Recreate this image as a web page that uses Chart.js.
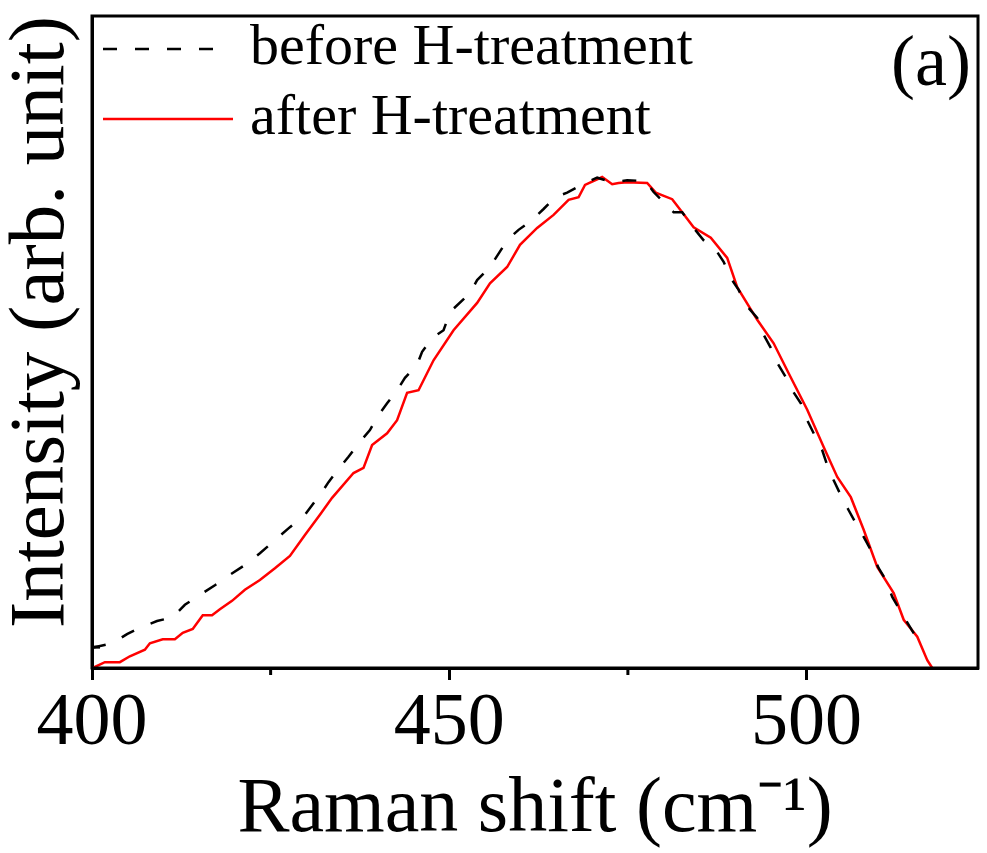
<!DOCTYPE html>
<html lang="en">
<head>
    <meta charset="UTF-8">
    <title>Raman shift</title>
    <script src="https://cdn.jsdelivr.net/npm/chart.js"></script>
    <style>
        html, body { margin: 0; padding: 0; background: #fff; }
        #wrap { width: 987px; height: 853px; }
    </style>
</head>
<body>
    <div id="wrap"><canvas id="ramanChart"></canvas></div>

    <script>
        // Raman shift (cm-1) and intensity (arb. unit)
        const beforeShift = [400.0, 402.9, 404.9, 407.0, 409.1, 411.3, 413.0, 415.1, 417.2, 419.3, 421.4, 423.5, 425.6, 427.7, 429.8,
            432.2, 433.1, 434.7, 435.9, 437.5, 438.9, 440.1, 441.3, 442.7, 443.8, 445.5, 446.2, 447.6, 449.2, 450.1,
            452.9, 453.9, 455.7, 458.1, 459.7, 461.6, 463.2, 464.8, 466.5, 469.0, 470.7, 472.8, 474.9, 477.5, 478.6,
            481.4, 482.6, 484.2, 485.6, 487.5, 488.4, 489.4, 490.5, 491.5, 493.1, 494.0, 495.0, 495.9, 497.1, 498.0,
            499.2, 500.1, 501.0, 502.2, 502.9, 503.8, 504.8, 505.9, 506.9, 508.0, 509.0, 510.1, 511.1, 512.0, 512.9,
            514.3, 515.3, 516.0];
        const beforeIntensity = [3.1, 3.8, 5.2, 6.3, 7.2, 7.8, 9.7, 11.2, 12.7, 14.3, 15.8, 17.6, 19.6, 21.6, 23.5,
            27.0, 28.5, 30.8, 32.4, 34.7, 36.5, 38.8, 40.6, 42.6, 44.5, 46.5, 48.5, 50.6, 51.8, 54.6,
            57.5, 59.5, 61.5, 65.6, 67.2, 68.7, 70.4, 72.2, 72.9, 74.4, 75.2, 74.5, 74.8, 74.7, 73.0,
            69.9, 69.9, 67.5, 65.6, 63.8, 62.3, 59.8, 58.0, 55.7, 53.7, 51.1, 49.1, 46.8, 44.6, 42.6,
            40.6, 38.0, 36.0, 33.4, 31.1, 28.8, 26.5, 24.2, 22.2, 20.1, 18.1, 15.3, 13.5, 10.9, 9.2,
            6.6, 4.8, 3.5];

        const afterShift = [400.1, 401.8, 403.9, 405.3, 407.4, 408.1, 409.9, 411.6, 412.7, 414.1, 415.5, 416.8, 417.9, 419.6, 421.4,
            423.5, 425.6, 427.7, 429.8, 431.9, 433.6, 436.6, 438.0, 439.2, 441.3, 442.7, 444.1, 445.7, 447.8, 450.6,
            453.9, 455.7, 458.1, 459.9, 462.3, 464.6, 466.7, 468.1, 469.0, 471.4, 472.8, 473.7, 474.9, 477.7, 478.9,
            481.2, 482.6, 484.2, 486.6, 488.9, 490.3, 493.1, 495.4, 497.5, 500.1, 502.4, 504.3, 506.2, 508.0, 509.9,
            512.2, 513.6, 515.5, 516.9, 517.6];
        const afterIntensity = [0.0, 0.9, 0.9, 1.8, 2.8, 3.8, 4.4, 4.4, 5.4, 6.0, 8.1, 8.1, 9.0, 10.3, 12.0,
            13.5, 15.3, 17.2, 20.4, 23.5, 26.1, 29.9, 30.7, 34.2, 36.0, 38.0, 42.2, 42.6, 47.2, 51.8,
            56.0, 59.0, 61.5, 64.9, 67.5, 69.5, 71.8, 72.2, 74.1, 75.3, 74.2, 74.4, 74.5, 74.4, 72.9,
            71.9, 69.9, 67.6, 66.0, 62.9, 58.4, 53.4, 49.8, 45.2, 39.6, 33.9, 29.3, 26.2, 21.2, 15.5,
            11.5, 7.4, 4.8, 1.2, 0.0];

        const seriesLabels = ['before H-treatment', 'after H-treatment'];
        const minorTicks = [425, 475];
        const yTickMarks = [3.2];
        const panelLabel = '(a)';

        const serif = '"Liberation Serif", "Times New Roman", serif';

        function toPoints(xs, ys) {
            return xs.map((x, i) => ({ x: x, y: ys[i] }));
        }

        // frame, minor ticks, in-plot legend and panel letter
        const decorations = {
            id: 'decorations',
            afterDraw(chart) {
                const { ctx, chartArea: a, scales } = chart;
                ctx.save();
                ctx.strokeStyle = '#000';
                ctx.lineWidth = 3;
                ctx.strokeRect(a.left, a.top, a.right - a.left, a.bottom - a.top);

                minorTicks.forEach(v => {
                    const px = scales.x.getPixelForValue(v);
                    ctx.beginPath();
                    ctx.moveTo(px, a.bottom);
                    ctx.lineTo(px, a.bottom + 7);
                    ctx.stroke();
                });
                yTickMarks.forEach(v => {
                    const py = scales.y.getPixelForValue(v);
                    ctx.beginPath();
                    ctx.moveTo(a.left, py);
                    ctx.lineTo(a.left + 8, py);
                    ctx.stroke();
                });

                // legend
                ctx.font = '58px ' + serif;
                ctx.textBaseline = 'middle';
                ctx.textAlign = 'left';
                chart.data.datasets.forEach((ds, i) => {
                    const ly = a.top + 33 + i * 70;
                    ctx.save();
                    ctx.strokeStyle = ds.borderColor;
                    ctx.lineWidth = ds.borderWidth;
                    ctx.setLineDash(ds.borderDash || []);
                    ctx.beginPath();
                    ctx.moveTo(a.left + 11, ly);
                    ctx.lineTo(a.left + (ds.borderDash ? 124 : 141), ly);
                    ctx.stroke();
                    ctx.restore();
                    ctx.fillStyle = '#000';
                    ctx.fillText(ds.label, a.left + 158, ly);
                });

                ctx.font = '72px ' + serif;
                ctx.textAlign = 'right';
                ctx.fillText(panelLabel, a.right - 7, a.top + 50);
                ctx.restore();
            }
        };

        new Chart(document.getElementById('ramanChart'), {
            type: 'line',
            data: {
                datasets: [{
                    label: seriesLabels[0],
                    data: toPoints(beforeShift, beforeIntensity),
                    borderColor: '#000000',
                    borderWidth: 2.5,
                    borderDash: [14, 18],
                    pointRadius: 0,
                    tension: 0,
                    fill: false
                }, {
                    label: seriesLabels[1],
                    data: toPoints(afterShift, afterIntensity),
                    borderColor: '#ff0000',
                    borderWidth: 2.5,
                    pointRadius: 0,
                    tension: 0,
                    fill: false
                }]
            },
            options: {
                responsive: true,
                maintainAspectRatio: false,
                animation: false,
                layout: { padding: { top: 16, right: 9, left: 0, bottom: 0 } },
                plugins: {
                    legend: { display: false },
                    tooltip: { enabled: false }
                },
                scales: {
                    x: {
                        type: 'linear',
                        min: 400,
                        max: 524,
                        afterFit: s => { s.height = 185; },
                        ticks: {
                            stepSize: 50,
                            includeBounds: false,
                            autoSkip: false,
                            maxRotation: 0,
                            padding: 0,
                            color: '#000',
                            font: { family: serif, size: 74 }
                        },
                        grid: {
                            drawOnChartArea: false,
                            drawTicks: true,
                            tickLength: 12,
                            tickWidth: 3,
                            color: '#000'
                        },
                        border: { display: true, color: '#000', width: 3 },
                        title: {
                            display: true,
                            text: 'Raman shift (cm\u207B\u00B9)',
                            color: '#000',
                            font: { family: serif, size: 78, lineHeight: 1 },
                            padding: { top: 0, bottom: 3 }
                        }
                    },
                    y: {
                        min: 0,
                        max: 100,
                        afterFit: s => { s.width = 92; },
                        ticks: { display: false },
                        grid: { display: false },
                        border: { display: true, color: '#000', width: 3 },
                        title: {
                            display: true,
                            align: 'end',
                            text: 'Intensity (arb. unit)',
                            color: '#000',
                            font: { family: serif, size: 79, lineHeight: 1 },
                            padding: { top: 3, bottom: 0 }
                        }
                    }
                }
            },
            plugins: [decorations]
        });
    </script>
</body>
</html>
